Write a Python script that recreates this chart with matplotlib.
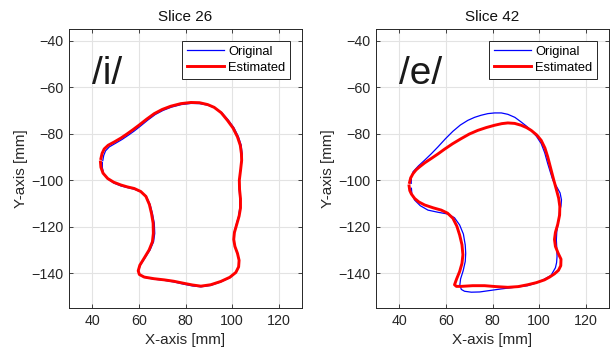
import matplotlib
matplotlib.use("Agg")
import matplotlib.pyplot as plt

plt.rcParams['font.family'] = ['Liberation Sans', 'DejaVu Sans']

# Slice 26, vowel /i/
i_est_x = [43.7, 44.2, 45.1, 46.8, 49.4, 52.3, 55.1, 57.6, 60.0, 63.3, 66.6, 70.0, 73.7, 78.0,
           82.3, 86.0, 89.5, 92.3, 95.3, 98.0, 100.4, 102.3, 103.5, 104.0, 104.1, 103.6, 103.1,
           103.2, 103.6, 103.6, 103.0, 102.0, 101.0, 100.7, 101.2, 102.3, 103.0, 102.8, 101.6,
           99.0, 95.1, 90.8, 86.6, 83.0, 79.4, 75.0, 70.9, 66.5, 62.3, 60.2, 59.7, 60.4, 62.3,
           64.4, 65.8, 66.2, 66.1, 65.4, 64.5, 63.0, 60.8, 58.0, 55.0, 52.3, 49.2, 46.6, 44.6,
           43.7, 43.5]
i_est_y = [-90.7, -88.5, -86.6, -85.0, -83.6, -81.9, -80.0, -78.2, -76.4, -73.8, -71.4, -69.6,
           -68.2, -67.1, -66.6, -66.7, -67.5, -68.7, -71.0, -74.3, -77.6, -81.4, -85.0, -88.6,
           -91.5, -96.0, -100.0, -104.0, -108.0, -112.0, -115.5, -119.0, -122.5, -125.5,
           -128.5, -131.5, -134.5, -137.3, -139.7, -141.8, -143.6, -145.0, -145.6, -145.1,
           -144.4, -143.5, -142.9, -142.4, -141.7, -140.6, -139.0, -136.6, -133.5, -130.0,
           -126.5, -122.9, -118.5, -114.3, -110.5, -107.0, -104.9, -103.6, -102.9, -102.1,
           -100.9, -99.3, -97.0, -94.5, -92.2]
i_orig_x = [44.5, 44.9, 45.7, 47.3, 49.9, 52.8, 55.6, 58.1, 60.5, 63.8, 67.0, 70.4, 74.0, 78.2,
            82.4, 86.1, 89.7, 92.6, 95.7, 98.4, 100.8, 102.7, 103.9, 104.3, 104.2, 103.6, 103.1,
            103.1, 103.3, 103.3, 102.8, 101.8, 100.9, 100.7, 101.2, 102.3, 103.0, 102.8, 101.6,
            99.0, 95.1, 90.8, 86.6, 83.0, 79.4, 75.0, 70.9, 66.5, 62.3, 60.3, 59.8, 60.6, 62.6,
            64.8, 66.3, 66.8, 66.6, 65.8, 64.8, 63.2, 61.0, 58.0, 55.0, 52.3, 49.3, 46.8, 44.9,
            44.3, 44.3]
i_orig_y = [-91.6, -89.4, -87.4, -85.7, -84.2, -82.5, -80.6, -78.8, -76.9, -74.2, -71.8, -70.0,
            -68.6, -67.5, -67.0, -67.1, -67.8, -68.9, -71.1, -74.2, -77.5, -81.3, -85.0, -88.6,
            -91.5, -96.0, -100.0, -104.0, -108.0, -112.0, -115.5, -119.0, -122.5, -125.5,
            -128.5, -131.5, -134.5, -137.3, -139.8, -142.0, -143.8, -145.3, -145.9, -145.5,
            -144.8, -143.8, -143.1, -142.6, -141.8, -140.7, -139.0, -136.6, -133.5, -130.0,
            -126.5, -122.9, -118.5, -114.3, -110.5, -107.0, -105.1, -103.9, -103.2, -102.5,
            -101.3, -99.6, -97.2, -94.6, -92.4]

# Slice 42, vowel /e/
e_est_x = [44.4, 44.9, 45.9, 47.2, 48.7, 51.0, 53.7, 56.5, 59.4, 62.8, 66.3, 70.0, 73.7, 77.3,
           80.9, 84.0, 86.6, 89.5, 92.3, 94.6, 96.6, 99.0, 100.9, 102.5, 103.7, 105.0, 106.3,
           107.4, 108.4, 108.9, 108.8, 108.0, 107.0, 106.6, 107.0, 108.2, 109.4, 109.3, 108.3,
           106.6, 104.5, 102.3, 98.8, 95.1, 91.0, 86.6, 81.5, 76.6, 71.5, 66.6, 64.5, 63.7,
           64.6, 65.9, 66.9, 67.3, 66.9, 65.9, 64.7, 63.0, 60.7, 58.0, 54.5, 50.9, 48.4, 46.6,
           45.2, 44.5, 44.2]
e_est_y = [-101.0, -99.0, -97.2, -95.6, -94.3, -92.5, -90.7, -88.8, -86.7, -84.4, -82.3, -80.2,
           -78.6, -77.4, -76.4, -75.7, -75.4, -75.6, -76.4, -77.4, -78.6, -80.6, -82.9, -86.2,
           -90.0, -95.0, -100.0, -104.0, -107.8, -111.4, -115.0, -119.0, -122.5, -125.5,
           -128.5, -131.5, -134.0, -136.8, -138.8, -140.3, -141.7, -142.9, -144.1, -145.0,
           -145.8, -146.1, -145.8, -145.4, -145.4, -145.7, -145.7, -145.0, -142.5, -139.3,
           -135.8, -132.1, -127.8, -123.6, -119.8, -116.4, -114.2, -112.9, -111.9, -110.7,
           -109.4, -107.9, -106.0, -104.5, -102.5]
e_orig_x = [45.1, 45.2, 45.9, 48.2, 50.9, 53.8, 56.6, 59.8, 63.0, 66.2, 69.4, 72.3, 75.1, 78.0,
            80.9, 83.8, 86.6, 89.6, 92.3, 94.6, 96.6, 98.9, 100.9, 102.4, 103.7, 104.9, 105.9,
            107.5, 109.0, 109.6, 109.4, 108.8, 108.2, 107.6, 107.4, 107.6, 107.7, 107.5, 107.0,
            105.1, 101.5, 98.0, 95.1, 89.5, 83.7, 78.0, 74.5, 70.9, 68.0, 66.6, 66.0, 66.3,
            67.4, 68.3, 68.5, 68.3, 67.5, 65.9, 63.7, 60.9, 56.5, 52.3, 49.0, 46.6, 45.4, 45.2]
e_orig_y = [-101.4, -98.8, -96.4, -93.9, -91.4, -88.6, -85.7, -82.2, -79.0, -76.3, -74.3, -73.0,
            -72.1, -71.4, -71.1, -71.1, -71.7, -73.0, -75.0, -76.8, -78.6, -81.2, -84.3, -88.2,
            -92.9, -96.8, -100.0, -102.8, -105.5, -108.5, -111.0, -113.5, -118.6, -122.0,
            -125.7, -129.5, -132.9, -135.5, -137.7, -141.0, -143.0, -144.5, -145.4, -146.1,
            -146.8, -147.6, -148.1, -148.2, -147.8, -147.0, -145.0, -142.5, -139.0, -135.0,
            -131.5, -127.9, -123.2, -119.3, -116.2, -114.6, -113.8, -112.9, -111.0, -108.6,
            -106.0, -103.5]

titles = ['Slice 26', 'Slice 42']
vowels = ['/i/', '/e/']
xticks = [40, 60, 80, 100, 120]
yticks = [-140, -120, -100, -80, -60, -40]

gray = '#262626'


def draw_panel(ax, ox, oy, ex, ey, title, vowel):
    ax.plot(ox, oy, color=(0, 0, 1), lw=0.9, label='Original', solid_joinstyle='round')
    ax.plot(ex, ey, color=(1, 0, 0), lw=2.1, label='Estimated', solid_joinstyle='round')
    ax.set_xlim(30, 130)
    ax.set_ylim(-155, -35)
    ax.set_xticks(xticks)
    ax.set_yticks(yticks)
    ax.grid(True, color='#e3e3e3', lw=0.8)
    ax.set_axisbelow(True)
    ax.tick_params(direction='in', length=3, width=0.6, colors=gray, labelsize=10.3,
                   top=True, right=True, pad=4)
    for s in ax.spines.values():
        s.set_color(gray)
        s.set_linewidth(0.7)
    ax.set_title(title, fontsize=11, color='#111111', pad=6)
    ax.set_xlabel('X-axis [mm]', fontsize=11, color=gray, labelpad=4)
    ax.set_ylabel('Y-axis [mm]', fontsize=11, color=gray, labelpad=2)
    ax.text(40, -58.5, vowel, fontsize=28, color='#1a1a1a', ha='left', va='baseline')
    leg = ax.legend(loc='upper right', fontsize=9.3, handlelength=2.85, handletextpad=0.3,
                    labelspacing=0.3, borderpad=0.4, borderaxespad=0.9, fancybox=False,
                    framealpha=1, edgecolor=gray)
    leg.get_frame().set_linewidth(0.7)


fig = plt.figure(figsize=(6.14, 3.56), dpi=100)
ax1 = fig.add_axes([69 / 614, 48 / 356, 233 / 614, 279 / 356])
ax2 = fig.add_axes([376 / 614, 48 / 356, 233 / 614, 279 / 356])

draw_panel(ax1, i_orig_x, i_orig_y, i_est_x, i_est_y, titles[0], vowels[0])
draw_panel(ax2, e_orig_x, e_orig_y, e_est_x, e_est_y, titles[1], vowels[1])

fig.savefig('out.png', dpi=100)
